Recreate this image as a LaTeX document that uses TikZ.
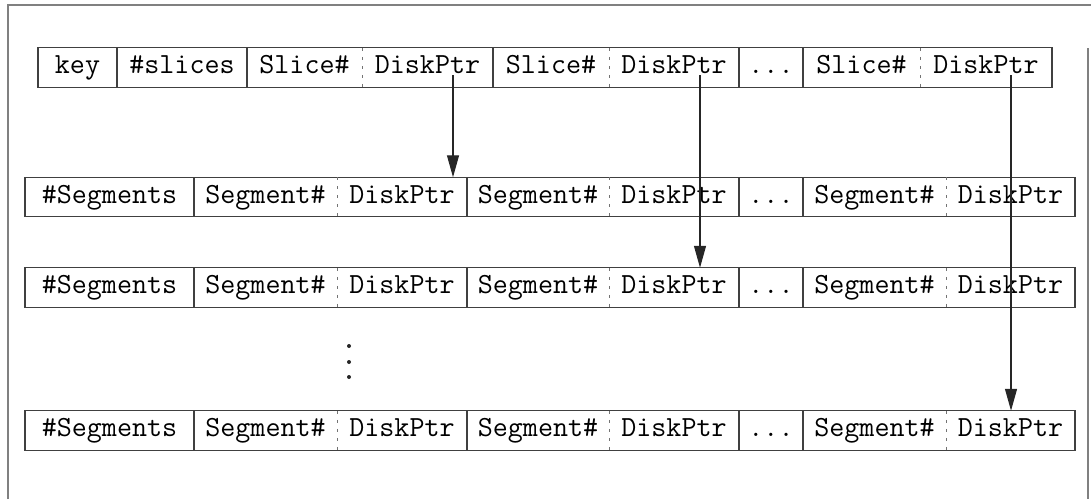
\documentclass[tikz,border=0pt]{standalone}
\usetikzlibrary{arrows.meta,positioning}

\begin{document}
\begin{tikzpicture}[x=0.5pt,y=-0.5pt,node distance=0pt,
  cell/.style={inner sep=0pt,outer sep=0pt,minimum height=19.75pt,
    font=\ttfamily\fontsize{14.6}{16}\selectfont,text height=0.72em,text depth=0.11em},
  rowline/.style={draw=black!75,line width=0.7pt},
  halfline/.style={draw=black!55,line width=0.5pt,dash pattern=on 1.5pt off 3pt},
  frameline/.style={draw=black!50,line width=1pt},
  ptr/.style={-{Triangle[length=11pt,width=6pt]},line width=0.6pt,draw=black!85,fill=black!85}]
\useasboundingbox (0,0) rectangle (1091,499);
% outer frame
\draw[frameline] (8,499) -- (8,5) -- (1091,5);
\draw[frameline] (1088,48) -- (1088,499);

% key record
\node[cell,minimum width=39.5pt] (key) at (77.5,67.5) {key};
\node[cell,minimum width=65pt]   (nsl) [right=of key] {\#slices};
\node[cell,minimum width=57.5pt] (sl1) [right=of nsl] {Slice\#};
\node[cell,minimum width=65.5pt] (dp1) [right=of sl1] {DiskPtr};
\node[cell,minimum width=58pt]   (sl2) [right=of dp1] {Slice\#};
\node[cell,minimum width=65pt]   (dp2) [right=of sl2] {DiskPtr};
\node[cell,minimum width=32pt]   (sld) [right=of dp2] {...};
\node[cell,minimum width=58.5pt] (sl3) [right=of sld] {Slice\#};
\node[cell,minimum width=66pt]   (dp3) [right=of sl3] {DiskPtr};
\draw[rowline] (key.north west) rectangle (dp3.south east);
\foreach \c in {key,nsl,dp1,dp2,sld}
  \draw[rowline] (\c.north east) -- (\c.south east);
\foreach \c in {sl1,sl2,sl3}
  \draw[halfline] (\c.north east) -- (\c.south east);

% segment records
\foreach \r/\y in {sa/197,sb/287.5,sc/430.5}{
  \node[cell,minimum width=84.5pt] (\r-hd) at (109.5,\y) {\#Segments};
  \node[cell,minimum width=71.5pt] (\r-sg1) [right=of \r-hd]  {Segment\#};
  \node[cell,minimum width=65pt]   (\r-dk1) [right=of \r-sg1] {DiskPtr};
  \node[cell,minimum width=71pt]   (\r-sg2) [right=of \r-dk1] {Segment\#};
  \node[cell,minimum width=65pt]   (\r-dk2) [right=of \r-sg2] {DiskPtr};
  \node[cell,minimum width=32pt]   (\r-dd)  [right=of \r-dk2] {...};
  \node[cell,minimum width=71.5pt] (\r-sg3) [right=of \r-dd]  {Segment\#};
  \node[cell,minimum width=64.5pt] (\r-dk3) [right=of \r-sg3] {DiskPtr};
  \draw[rowline] (\r-hd.north west) rectangle (\r-dk3.south east);
  \foreach \c in {hd,dk1,dk2,dd}
    \draw[rowline] (\r-\c.north east) -- (\r-\c.south east);
  \foreach \c in {sg1,sg2,sg3}
    \draw[halfline] (\r-\c.north east) -- (\r-\c.south east);
}

% vertical ellipsis
\foreach \y in {346,362,377}
  \fill[black!85] (349,\y) circle (1pt);

% pointers
\coordinate (a1) at ([xshift=12.75pt,yshift=-3.75pt]dp1.center);
\coordinate (a2) at ([xshift=13pt,yshift=-3.75pt]dp2.center);
\coordinate (a3) at ([xshift=12.5pt,yshift=-3.75pt]dp3.center);
\draw[ptr] (a1) -- (a1 |- sa-dk1.north);
\draw[ptr] (a2) -- (a2 |- sb-dk2.north);
\draw[ptr] (a3) -- (a3 |- sc-dk3.north);
\end{tikzpicture}
\end{document}
